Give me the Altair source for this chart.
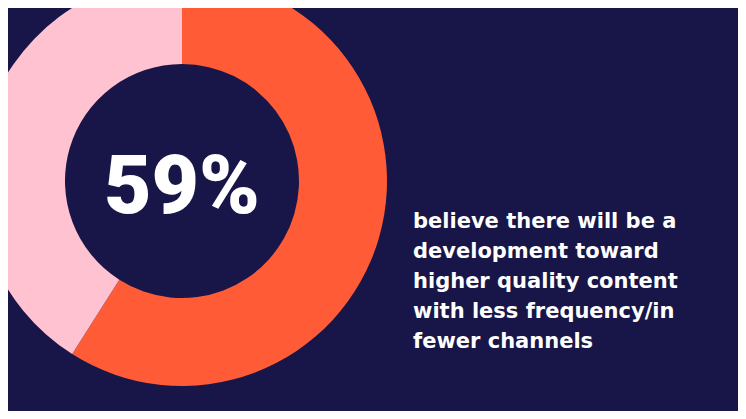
import altair as alt
import pandas as pd

labels = ["agree", "other"]
shares = [59, 41]
colors = ["#FF5B36", "#FFC2D1"]
big_label = "59%"
caption_lines = [
    "believe there will be a",
    "development toward",
    "higher quality content",
    "with less frequency/in",
    "fewer channels",
]

BG = "#181648"
W, H = 730, 403
CX, CY = 174, 173

df = pd.DataFrame({"label": labels, "share": shares, "order": [0, 1]})

donut = alt.Chart(df).mark_arc(radius=205, innerRadius=117).encode(
    theta=alt.Theta("share:Q", stack=True),
    order=alt.Order("order:Q"),
    color=alt.Color("label:N", scale=alt.Scale(domain=labels, range=colors), legend=None),
    x=alt.value(CX),
    y=alt.value(CY),
)

big = alt.Chart(pd.DataFrame({"t": [big_label]})).mark_text(
    font="Roboto", fontSize=82, fontWeight=900, color="white",
    align="center", baseline="alphabetic",
).encode(text="t:N", x=alt.value(CX), y=alt.value(205))

caption = alt.Chart(pd.DataFrame({"a": [0]})).mark_text(
    font="DejaVu Sans", fontSize=21, fontWeight="bold", color="white",
    align="left", baseline="alphabetic", lineHeight=30,
).encode(text=alt.value(caption_lines), x=alt.value(405), y=alt.value(220))

chart = alt.layer(donut, big, caption).properties(
    width=W, height=H, padding=0, autosize="none", background=BG
).configure_view(strokeWidth=0)

chart.save("out.html", embed_options={"renderer": "svg", "actions": False})
